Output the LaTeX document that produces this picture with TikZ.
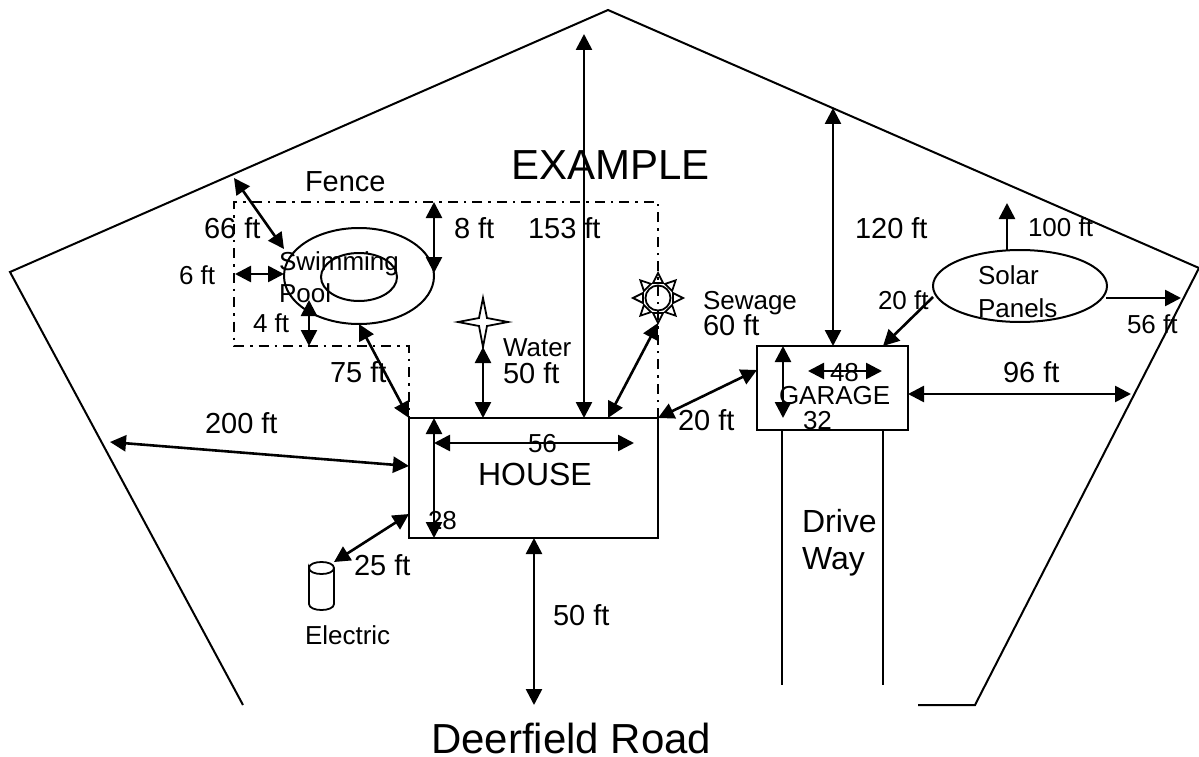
\documentclass[tikz,border=0pt]{standalone}
\usepackage{fontspec}
\setmainfont{Liberation Sans}
\usetikzlibrary{arrows.meta,shapes.geometric}
\tikzset{
  ln/.style={line width=2pt,black},
  thin ln/.style={line width=1.8pt,black},
  arw/.style={line width=2.6pt,black,{Triangle[length=16pt,width=16pt]}-{Triangle[length=16pt,width=16pt]}},
  oneway/.style={line width=2.6pt,black,-{Triangle[length=16pt,width=16pt]}},
  fence/.style={line width=2pt,black,dash pattern=on 10pt off 6pt on 2.5pt off 6pt},
  box/.style={draw,ln,rectangle,inner sep=0pt,outer sep=0pt},
  oval/.style={draw,ln,ellipse,inner sep=0pt,outer sep=0pt},
  txt/.style={anchor=base west,inner sep=0pt,outer sep=0pt,text=black},
  s26/.style={txt,font=\fontsize{26}{26}\selectfont},
  s29/.style={txt,font=\fontsize{29}{29}\selectfont},
  s32/.style={txt,font=\fontsize{32}{32}\selectfont},
  s42/.style={txt,font=\fontsize{42}{42}\selectfont},
}
\begin{document}
\begin{tikzpicture}[x=1pt,y=-1pt]
\useasboundingbox (0,0) rectangle (1199,757);
% property boundary
\coordinate (bl) at (243,705);
\coordinate (lc) at (10,272);
\coordinate (apex) at (608,10);
\coordinate (rc) at (1199,268);
\coordinate (br) at (975,705);
\coordinate (brend) at (918,705);
\draw[ln,line join=miter] (bl) -- (lc) -- (apex) -- (rc) -- (br) -- (brend);
% fence
\coordinate (f1) at (658,418);
\coordinate (f2) at (658,202);
\coordinate (f3) at (234,202);
\coordinate (f4) at (234,346);
\coordinate (f5) at (409,346);
\coordinate (f6) at (409,418);
\draw[fence] (f1) -- (f2) -- (f3) -- (f4) -- (f5) -- (f6);
% buildings
\node[box,minimum width=249pt,minimum height=120pt] (house) at (533.5,478) {};
\node[box,minimum width=151pt,minimum height=84pt] (garage) at (832.5,388) {};
\coordinate (dl) at (782,685);
\coordinate (dr) at (883,685);
\coordinate (gl) at (782,430);
\coordinate (gr) at (883,430);
\draw[ln] (gl) -- (dl);
\draw[ln] (gr) -- (dr);
% ovals
\node[oval,minimum width=150pt,minimum height=96pt] (pool) at (359,276) {};
\node[oval,minimum width=76pt,minimum height=48pt] (inner) at (359,277) {};
\node[oval,minimum width=174pt,minimum height=72pt] (solar) at (1020,286) {};
% water star
\draw[thin ln,line join=miter] (483,298) -- (487,318) -- (508,322) -- (487,326) -- (483,347) -- (479,326) -- (458,322) -- (479,318) -- cycle;
% sewage sun
\node[draw,thin ln,circle,minimum size=25pt,inner sep=0pt,outer sep=0pt] (sun) at (658,298) {};
\foreach \a in {0,45,...,315}{
  \draw[thin ln,line join=miter,rotate around={\a:(658,298)}] (673,293) -- (683,298) -- (673,303) -- cycle;
}
% electric cylinder
\draw[thin ln] (309,568) .. controls (309,560) and (334,560) .. (334,568) .. controls (334,576) and (309,576) .. (309,568) -- (309,604) .. controls (309,612) and (334,612) .. (334,604) -- (334,568);
% end points
\coordinate (a66a) at (234,178);
\coordinate (a66b) at (284,249);
\coordinate (a6a) at (235,274);
\coordinate (a6b) at (284,274);
\coordinate (a4a) at (309,300);
\coordinate (a4b) at (309,346);
\coordinate (a8a) at (434,202);
\coordinate (a8b) at (434,273);
\coordinate (a75a) at (359,324);
\coordinate (a153a) at (584,34);
\coordinate (a153b) at (584,418);
\coordinate (awa) at (483,347);
\coordinate (awb) at (483,418);
\coordinate (asa) at (658,323);
\coordinate (asb) at (608,418);
\coordinate (aga) at (757,370);
\coordinate (a200a) at (110,442);
\coordinate (a200b) at (409,466);
\coordinate (a56a) at (434,443);
\coordinate (a56b) at (634,443);
\coordinate (a28a) at (434,418);
\coordinate (a28b) at (434,538);
\coordinate (a25a) at (334,562);
\coordinate (a25b) at (409,514);
\coordinate (a50a) at (534,538);
\coordinate (a50b) at (534,705);
\coordinate (a120a) at (833,108);
\coordinate (a120b) at (833,346);
\coordinate (a100a) at (1007,250);
\coordinate (a100b) at (1007,203);
\coordinate (a20a) at (933,297);
\coordinate (a20b) at (883,346);
\coordinate (as56a) at (1106,298);
\coordinate (as56b) at (1181,298);
\coordinate (a96a) at (908,394);
\coordinate (a96b) at (1131,394);
\coordinate (a48a) at (808,371);
\coordinate (a48b) at (882,371);
\coordinate (a32a) at (783,346);
\coordinate (a32b) at (783,418);
% dimension arrows
\draw[arw] (a66a) -- (a66b);
\draw[arw] (a6a) -- (a6b);
\draw[arw] (a4a) -- (a4b);
\draw[arw] (a8a) -- (a8b);
\draw[arw] (a75a) -- (house.north west);
\draw[arw] (a153a) -- (a153b);
\draw[arw] (awa) -- (awb);
\draw[arw] (asa) -- (asb);
\draw[arw] (house.north east) -- (aga);
\draw[arw] (a200a) -- (a200b);
\draw[arw] (a56a) -- (a56b);
\draw[arw] (a28a) -- (a28b);
\draw[arw] (a25a) -- (a25b);
\draw[arw] (a50a) -- (a50b);
\draw[arw] (a120a) -- (a120b);
\draw[oneway] (a100a) -- (a100b);
\draw[oneway] (a20a) -- (a20b);
\draw[oneway] (as56a) -- (as56b);
\draw[arw] (a96a) -- (a96b);
\draw[arw] (a48a) -- (a48b);
\draw[arw] (a32a) -- (a32b);
% labels
\node[s42] (example) at (511,179) {EXAMPLE};
\node[s29] (tfence) at (305,191) {Fence};
\node[s29] (t66) at (204,238) {66 ft};
\node[s26] (t6) at (179,284) {6 ft};
\node[s26] (tswim) at (279,270) {Swimming};
\node[s26] (tpool) at (279,302) {Pool};
\node[s26] (t4) at (253,332) {4 ft};
\node[s29] (t8) at (454,238) {8 ft};
\node[s29] (t75) at (330,382) {75 ft};
\node[s29] (t153) at (528,238) {153 ft};
\node[s26] (twater) at (503,356) {Water};
\node[s29] (t50w) at (503,383) {50 ft};
\node[s26] (tsew) at (703,309) {Sewage};
\node[s29] (t60) at (703,335) {60 ft};
\node[s29] (t20h) at (678,430) {20 ft};
\node[s29] (t120) at (855,238) {120 ft};
\node[s26] (t100) at (1028,236) {100 ft};
\node[s26] (t20s) at (878,309) {20 ft};
\node[s26] (tsolar) at (978,284) {Solar};
\node[s26] (tpanels) at (978,317) {Panels};
\node[s26] (t56s) at (1127,333) {56 ft};
\node[s29] (t96) at (1003,382) {96 ft};
\node[s26] (t48) at (830,381) {48};
\node[s26] (tgarage) at (779,404) {GARAGE};
\node[s26] (t32) at (803,429) {32};
\node[s29] (t200) at (205,433) {200 ft};
\node[s26] (t56h) at (528,452) {56};
\node[s32] (thouse) at (478,485) {HOUSE};
\node[s26] (t28) at (428,529) {28};
\node[s29] (t25) at (354,575) {25 ft};
\node[s26] (telec) at (305,644) {Electric};
\node[s29] (t50) at (553,625) {50 ft};
\node[s32] (tdrive) at (802,532) {Drive};
\node[s32] (tway) at (802,569) {Way};
\node[s42] (troad) at (431,753) {Deerfield Road};
\end{tikzpicture}
\end{document}
